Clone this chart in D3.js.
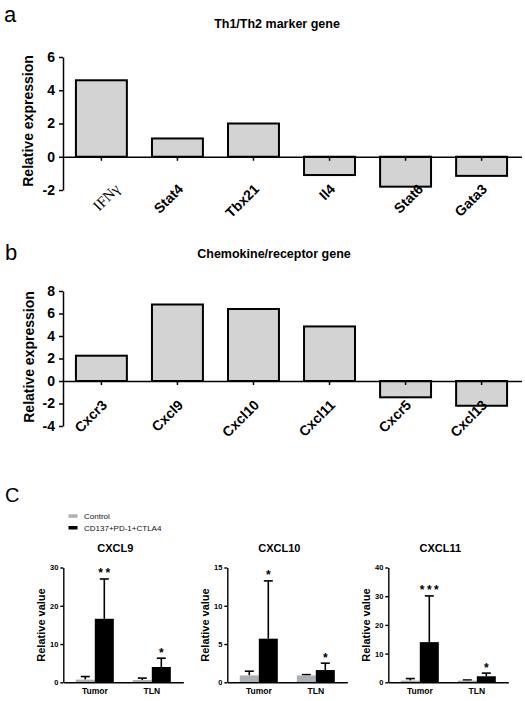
<!DOCTYPE html>
<html>
<head>
<meta charset="utf-8">
<script src="https://cdn.jsdelivr.net/npm/d3@7"></script>
<style>
  html, body { margin: 0; padding: 0; background: #fff; }
  svg { display: block; }
</style>
</head>
<body>
<svg id="chart" width="525" height="701" font-family='Arial, "Liberation Sans", sans-serif'></svg>
<script>
// ---------- Data ----------
const genesA = ["IFNγ", "Stat4", "Tbx21", "Il4", "Stat6", "Gata3"];
const valuesA = [4.6, 1.1, 2.0, -1.1, -1.8, -1.15];
const ticksA = [-2, 0, 2, 4, 6];

const genesB = ["Cxcr3", "Cxcl9", "Cxcl10", "Cxcl11", "Cxcr5", "Cxcl13"];
const valuesB = [2.25, 6.8, 6.4, 4.85, -1.45, -2.2];
const ticksB = [-4, -2, 0, 2, 4, 6, 8];

const sites = ["Tumor", "TLN"];
const groups = ["Control", "CD137+PD-1+CTLA4"];
const chemokines = ["CXCL9", "CXCL10", "CXCL11"];

const cxcl9Control = [0.7, 0.6];
const cxcl9ControlErr = [0.8, 0.5];
const cxcl9Treated = [16.6, 4.0];
const cxcl9TreatedErr = [10.4, 2.3];
const cxcl9Stars = ["**", "*"];
const cxcl9Ticks = [0, 10, 20, 30];

const cxcl10Control = [0.9, 0.9];
const cxcl10ControlErr = [0.55, 0.1];
const cxcl10Treated = [5.7, 1.6];
const cxcl10TreatedErr = [7.55, 0.9];
const cxcl10Stars = ["*", "*"];
const cxcl10Ticks = [0, 5, 10, 15];

const cxcl11Control = [0.6, 0.6];
const cxcl11ControlErr = [0.7, 0.2];
const cxcl11Treated = [14.0, 2.1];
const cxcl11TreatedErr = [16.1, 1.1];
const cxcl11Stars = ["***", "*"];
const cxcl11Ticks = [0, 10, 20, 30, 40];

// ---------- Drawing ----------
const svg = d3.select("#chart");
const FONT = 'Arial, "Liberation Sans", sans-serif';
const SERIF = '"Liberation Serif", "Times New Roman", serif';
const fmt = d => String(d);

// Panel letters
svg.append("text").attr("x", 4).attr("y", 22).attr("font-size", 22).text("a");
svg.append("text").attr("x", 5).attr("y", 260).attr("font-size", 22).text("b");
svg.append("text").attr("x", 5).attr("y", 502).attr("font-size", 20).text("C");

function barPanel(cfg) {
  const g = svg.append("g");
  const x = d3.scaleBand().domain(cfg.genes).range([63, 520])
    .paddingInner(0.33).paddingOuter(0.17);
  const y = d3.scaleLinear().domain([cfg.ticks[0], cfg.ticks[cfg.ticks.length - 1]])
    .range([cfg.bottom, cfg.top]);

  // title
  g.append("text").attr("x", cfg.titleX).attr("y", cfg.titleY)
    .attr("text-anchor", "middle").attr("font-size", 12.5).attr("font-weight", "bold")
    .text(cfg.title);

  // bars
  g.selectAll("rect.bar").data(cfg.genes).join("rect")
    .attr("class", "bar")
    .attr("x", d => x(d))
    .attr("width", x.bandwidth())
    .attr("y", (d, i) => y(Math.max(0, cfg.values[i])))
    .attr("height", (d, i) => Math.abs(y(cfg.values[i]) - y(0)))
    .attr("fill", "#d3d3d3").attr("stroke", "#000").attr("stroke-width", 2);

  // y axis
  const ya = g.append("g").attr("transform", "translate(63,0)")
    .call(d3.axisLeft(y).tickValues(cfg.ticks).tickFormat(fmt).tickSize(4).tickSizeOuter(0).tickPadding(4));
  ya.selectAll("text").attr("font-size", 14).attr("font-weight", "bold").attr("font-family", FONT).attr("fill", "#000");
  ya.selectAll("line").attr("stroke-width", 1.5);
  ya.select(".domain").attr("stroke-width", 1.5);

  // zero axis
  const xa = g.append("g").attr("transform", `translate(0,${y(0)})`)
    .call(d3.axisBottom(x).tickSize(4).tickSizeOuter(0).tickFormat(""));
  xa.select(".domain").attr("d", `M63,0.5H522`).attr("stroke-width", 1.5);
  xa.selectAll("line").attr("stroke-width", 1.5);

  // category labels
  g.selectAll("text.xl").data(cfg.genes).join("text")
    .attr("class", "xl")
    .attr("transform", d => {
      const nudge = (cfg.nudge && cfg.nudge[d]) || 0;
      return `translate(${x(d) + x.bandwidth() / 2 + 6.5 + nudge},${cfg.labelY}) rotate(-45)`;
    })
    .attr("text-anchor", "end")
    .attr("font-size", d => d === "IFNγ" ? 15 : 14)
    .attr("font-weight", d => d === "IFNγ" ? "normal" : "bold")
    .attr("font-family", d => d === "IFNγ" ? SERIF : FONT)
    .text(d => d);

  // y label
  g.append("text")
    .attr("transform", `translate(${cfg.ylabX},${cfg.ylabY}) rotate(-90)`)
    .attr("text-anchor", "middle").attr("font-size", 14).attr("font-weight", "bold")
    .text("Relative expression");
}

barPanel({
  genes: genesA, values: valuesA, ticks: ticksA,
  top: 57, bottom: 190, title: "Th1/Th2 marker gene", titleX: 277, titleY: 28,
  labelY: 190, ylabX: 32.5, ylabY: 121,
  nudge: { "IFNγ": 13, "Stat6": 12 }
});
barPanel({
  genes: genesB, values: valuesB, ticks: ticksB,
  top: 291, bottom: 426, title: "Chemokine/receptor gene", titleX: 274, titleY: 258,
  labelY: 406, ylabX: 34, ylabY: 357
});

// Legend
const legendColors = ["#abb0b5", "#000"];
const legend = svg.append("g");
groups.forEach((gr, i) => {
  legend.append("rect").attr("x", 68.5).attr("y", 514.3 + i * 11.7)
    .attr("width", 9).attr("height", 3.5).attr("fill", legendColors[i]);
  legend.append("text").attr("x", 84).attr("y", 518.8 + i * 11.7)
    .attr("font-size", 8).attr("fill", "#111").text(gr);
});

// Small multiples
const smallData = [
  { name: chemokines[0], control: cxcl9Control, controlErr: cxcl9ControlErr, treated: cxcl9Treated, treatedErr: cxcl9TreatedErr, stars: cxcl9Stars, ticks: cxcl9Ticks },
  { name: chemokines[1], control: cxcl10Control, controlErr: cxcl10ControlErr, treated: cxcl10Treated, treatedErr: cxcl10TreatedErr, stars: cxcl10Stars, ticks: cxcl10Ticks },
  { name: chemokines[2], control: cxcl11Control, controlErr: cxcl11ControlErr, treated: cxcl11Treated, treatedErr: cxcl11TreatedErr, stars: cxcl11Stars, ticks: cxcl11Ticks }
];
const axisXs = [63.3, 227.3, 388.3];

smallData.forEach((d, k) => {
  const ax = axisXs[k];
  const g = svg.append("g");
  const x = d3.scaleBand().domain(sites).range([ax, ax + 120])
    .paddingInner(0.333).paddingOuter(0.219);
  const xs = d3.scaleBand().domain(groups).range([0, x.bandwidth()]).padding(0);
  const y = d3.scaleLinear().domain([0, d.ticks[d.ticks.length - 1]]).range([682.3, 567.5]);

  g.append("text").attr("x", ax + 52).attr("y", 552)
    .attr("text-anchor", "middle").attr("font-size", 11).attr("font-weight", "bold")
    .text(d.name);

  const rows = [];
  sites.forEach((s, i) => {
    rows.push({ site: s, group: groups[0], v: d.control[i], e: d.controlErr[i], color: legendColors[0] });
    rows.push({ site: s, group: groups[1], v: d.treated[i], e: d.treatedErr[i], color: legendColors[1], star: d.stars[i] });
  });

  // error bars (behind bars)
  rows.forEach(r => {
    const cx = x(r.site) + xs(r.group) + xs.bandwidth() / 2;
    g.append("line").attr("x1", cx).attr("x2", cx)
      .attr("y1", y(r.v)).attr("y2", y(r.v + r.e))
      .attr("stroke", "#000").attr("stroke-width", 1.6);
    g.append("line").attr("x1", cx - 4.5).attr("x2", cx + 4.5)
      .attr("y1", y(r.v + r.e)).attr("y2", y(r.v + r.e))
      .attr("stroke", "#000").attr("stroke-width", 1.6);
    if (r.star) {
      g.append("text").attr("x", cx + (r.star.length > 1 ? 1.2 : 0)).attr("y", y(r.v + r.e) - 1.5)
        .attr("text-anchor", "middle").attr("font-size", 12).attr("font-weight", "bold")
        .attr("letter-spacing", r.star.length > 1 ? 2.5 : 0)
        .text(r.star);
    }
  });

  g.selectAll("rect.b").data(rows).join("rect")
    .attr("class", "b")
    .attr("x", r => x(r.site) + xs(r.group))
    .attr("width", xs.bandwidth())
    .attr("y", r => y(r.v))
    .attr("height", r => y(0) - y(r.v))
    .attr("fill", r => r.color);

  const ya = g.append("g").attr("transform", `translate(${ax},0)`)
    .call(d3.axisLeft(y).tickValues(d.ticks).tickFormat(fmt).tickSize(3).tickSizeOuter(0).tickPadding(2));
  ya.selectAll("text").attr("font-size", 7.5).attr("font-weight", "bold").attr("font-family", FONT).attr("fill", "#000");
  ya.selectAll("line").attr("stroke-width", 1.4);
  ya.select(".domain").attr("stroke-width", 1.4);

  const xa = g.append("g").attr("transform", `translate(0,${y(0)})`)
    .call(d3.axisBottom(x).tickSize(0).tickSizeOuter(0).tickPadding(6));
  xa.selectAll("text").attr("font-size", 8.5).attr("font-weight", "bold").attr("font-family", FONT).attr("fill", "#000");
  xa.select(".domain").attr("stroke-width", 1.6);

  g.append("text")
    .attr("transform", `translate(${ax - 18.5},625) rotate(-90)`)
    .attr("text-anchor", "middle").attr("font-size", 11).attr("font-weight", "bold")
    .text("Relative value");
});
</script>
</body>
</html>
